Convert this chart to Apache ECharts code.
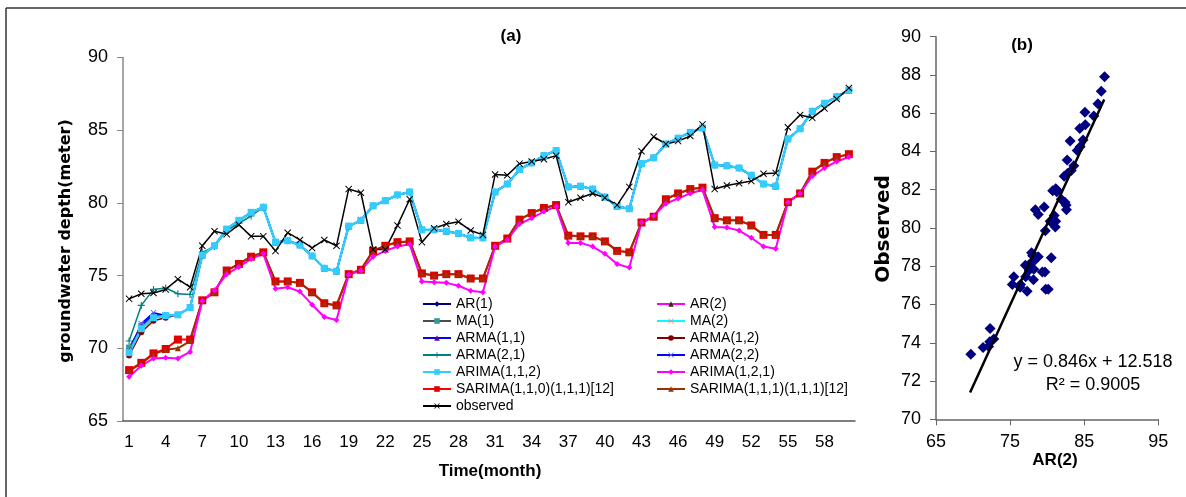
<!DOCTYPE html>
<html>
<head>
<meta charset="utf-8">
<script src="https://cdn.jsdelivr.net/npm/echarts@6/dist/echarts.min.js"></script>
<style>
  html, body { margin: 0; padding: 0; background: #fff; }
  #chart { width: 1186px; height: 497px; }
</style>
</head>
<body>
<div id="chart"></div>
<script>
// months 1..60
const months = []
for (let i = 1; i <= 60; i++) months.push(String(i))

// observed groundwater depth
const observed = [
  73.4, 73.75, 73.8, 74.05, 74.75, 74.2, 77.05, 78.05, 77.85, 78.5, 77.7, 77.7,
  76.7, 77.95, 77.45, 76.9, 77.45, 77.05, 80.95, 80.7, 76.8, 76.8, 78.45, 80.25,
  77.3, 78.25, 78.55, 78.7, 78.1, 77.8, 81.95, 81.9, 82.7, 82.85, 83.0, 83.25,
  80.05, 80.35, 80.65, 80.35, 79.85, 81.1, 83.55, 84.55, 84.05, 84.25, 84.6, 85.4,
  80.95, 81.2, 81.35, 81.5, 82.0, 82.05, 85.2, 86.05, 85.85, 86.5, 87.15, 87.9
]

// upper group of models (AR, MA, ARMA, ARIMA(1,1,2)) - they overlap almost everywhere
const upperModel = [
  69.7, 71.35, 72.1, 72.25, 72.3, 72.8, 76.4, 77.05, 78.2, 78.8, 79.35, 79.7,
  77.3, 77.4, 77.1, 76.35, 75.5, 75.3, 78.4, 78.8, 79.8, 80.15, 80.55, 80.75,
  78.15, 78.15, 78.05, 77.9, 77.6, 77.6, 80.75, 81.3, 82.3, 82.75, 83.25, 83.6,
  81.1, 81.15, 80.95, 80.4, 79.75, 79.6, 82.7, 83.1, 84.05, 84.45, 84.85, 85.15,
  82.6, 82.55, 82.4, 81.9, 81.3, 81.15, 84.4, 85.1, 86.3, 86.85, 87.3, 87.75
]
// first months where single models leave the bundle
const ar1Start = [69.6]
const ma1Start = [70.05, 71.55]
const arma11Start = [69.8, 71.6, 72.3]
const arma12Start = [69.5, 71.1, 71.9, 72.1]
const arma21Start = [70.5, 72.95, 74.05, 74.15, 73.75, 73.7, 76.6, 77.0, 78.1, 78.6, 79.1]
const arma22Start = [69.8, 71.7, 72.45]

// lower group
const sarima110 = [
  68.5, 69.0, 69.65, 69.95, 70.6, 70.6, 73.3, 73.85, 75.35, 75.8, 76.3, 76.6,
  74.6, 74.6, 74.5, 73.85, 73.1, 72.95, 75.1, 75.4, 76.7, 77.05, 77.3, 77.35,
  75.15, 75.0, 75.1, 75.1, 74.8, 74.8, 77.05, 77.55, 78.85, 79.3, 79.65, 79.85,
  77.75, 77.7, 77.7, 77.35, 76.7, 76.6, 78.65, 79.05, 80.25, 80.65, 80.95, 81.05,
  78.95, 78.8, 78.8, 78.45, 77.8, 77.8, 80.05, 80.65, 82.15, 82.75, 83.15, 83.35
]
const sarima111Start = [68.45, 68.95, 69.6, 69.9, 70.0, 70.5]
const arima121 = [
  68.05, 68.8, 69.3, 69.35, 69.3, 69.75, 73.25, 74.0, 75.1, 75.6, 76.15, 76.5,
  74.1, 74.2, 73.9, 73.0, 72.15, 71.95, 75.05, 75.35, 76.3, 76.7, 77.0, 77.15,
  74.6, 74.55, 74.5, 74.3, 73.95, 73.85, 77.0, 77.45, 78.55, 78.95, 79.4, 79.75,
  77.25, 77.25, 77.0, 76.5, 75.8, 75.55, 78.65, 79.1, 79.95, 80.3, 80.65, 80.9,
  78.35, 78.3, 78.1, 77.6, 77.0, 76.85, 80.05, 80.65, 81.85, 82.4, 82.85, 83.15
]

// trend line of panel (b)
const trendSlope = 0.846
const trendIntercept = 12.518
const trendX = [69.6, 87.7]

const withStart = (start, base) => start.concat(base.slice(start.length))

const X_SYM = 'path://M0,1L1,0L5,4L9,0L10,1L6,5L10,9L9,10L5,6L1,10L0,9L4,5Z'
const PLUS_SYM = 'path://M4.2,0H5.8V4.2H10V5.8H5.8V10H4.2V5.8H0V4.2H4.2Z'
const DASH_SYM = 'path://M0,4H10V6H0Z'

function line(name, data, lineColor, symbol, symColor, symSize, width) {
  return {
    name, type: 'line', data,
    xAxisIndex: 0, yAxisIndex: 0,
    symbol, symbolSize: symSize, showAllSymbol: true,
    lineStyle: { color: lineColor, width: width || 1.5 },
    itemStyle: { color: symColor },
    emphasis: { disabled: true }
  }
}

const series = [
  line('AR(1)', withStart(ar1Start, upperModel), '#000080', 'diamond', '#000080', 6),
  line('AR(2)', upperModel, '#FF00FF', 'triangle', '#333300', 6),
  line('MA(1)', withStart(ma1Start, upperModel), '#4D4D4D', 'rect', '#339999', 6),
  line('MA(2)', upperModel, '#00FFFF', X_SYM, '#FF8080', 6),
  line('ARMA(1,1)', withStart(arma11Start, upperModel), '#0000FF', 'triangle', '#660099', 6),
  line('ARMA(1,2)', withStart(arma12Start, upperModel), '#800000', 'circle', '#800000', 6),
  line('ARMA(2,1)', withStart(arma21Start, upperModel), '#008080', PLUS_SYM, '#008080', 7),
  line('ARMA(2,2)', withStart(arma22Start, upperModel), '#0000FF', X_SYM, '#6666FF', 6),
  line('ARIMA(1,1,2)', upperModel, '#33CCFF', DASH_SYM, '#33CCFF', 7, 2.5),
  line('SARIMA(1,1,0)(1,1,1)[12]', sarima110, '#FF0000', 'rect', '#E00000', 8, 2),
  line('SARIMA(1,1,1)(1,1,1)[12]', withStart(sarima111Start, sarima110), '#993300', 'triangle', '#993300', 6, 2),
  line('ARIMA(1,2,1)', arima121, '#FF00FF', 'diamond', '#FF00FF', 6, 2),
  line('observed', observed, '#000000', X_SYM, '#000000', 7, 1.5),
  {
    name: 'scatter', type: 'scatter',
    xAxisIndex: 1, yAxisIndex: 1,
    data: upperModel.map((v, i) => [v, observed[i]]),
    symbol: 'diamond', symbolSize: 11,
    itemStyle: { color: '#000080', opacity: 1 },
    emphasis: { disabled: true }
  },
  {
    name: 'trend', type: 'line',
    xAxisIndex: 1, yAxisIndex: 1,
    data: trendX.map(x => [x, trendSlope * x + trendIntercept]),
    symbol: 'none',
    lineStyle: { color: '#000', width: 2.5 },
    emphasis: { disabled: true }
  }
]

const labelFont = { fontFamily: 'Liberation Sans', color: '#000' }
const legendCommon = {
  orient: 'vertical', top: 297, padding: 0, itemWidth: 28, itemHeight: 7, itemGap: 3,
  selectedMode: false,
  textStyle: { fontFamily: 'Liberation Sans', fontSize: 14, color: '#000' }
}

const chart = echarts.init(document.getElementById('chart'))
chart.setOption({
  animation: false,
  backgroundColor: '#fff',
  legend: [
    Object.assign({ left: 422, data: ['AR(1)', 'MA(1)', 'ARMA(1,1)', 'ARMA(2,1)', 'ARIMA(1,1,2)', 'SARIMA(1,1,0)(1,1,1)[12]', 'observed'] }, legendCommon),
    Object.assign({ left: 656, data: ['AR(2)', 'MA(2)', 'ARMA(1,2)', 'ARMA(2,2)', 'ARIMA(1,2,1)', 'SARIMA(1,1,1)(1,1,1)[12]'] }, legendCommon)
  ],
  grid: [
    { left: 123, top: 57.5, width: 732, height: 363.5 },
    { left: 936, top: 36.7, width: 222.3, height: 382.6 }
  ],
  xAxis: [
    {
      type: 'category', gridIndex: 0, data: months, boundaryGap: true,
      axisLine: { lineStyle: { color: '#555', width: 1.5 } },
      axisTick: { interval: 0, length: 6, lineStyle: { color: '#555' } },
      axisLabel: Object.assign({ interval: 2, fontSize: 17, margin: 13 }, labelFont),
      splitLine: { show: false }
    },
    {
      type: 'value', gridIndex: 1, min: 65, max: 95, interval: 10,
      axisLine: { show: true, lineStyle: { color: '#666', width: 1.5 } },
      axisTick: { show: true, length: 6, lineStyle: { color: '#666' } },
      axisLabel: Object.assign({ fontSize: 18, margin: 14 }, labelFont),
      splitLine: { show: false }
    }
  ],
  yAxis: [
    {
      type: 'value', gridIndex: 0, min: 65, max: 90, interval: 5,
      axisLine: { show: true, lineStyle: { color: '#888', width: 1.5 } },
      axisTick: { show: true, length: 6, lineStyle: { color: '#888' } },
      axisLabel: Object.assign({ fontSize: 18, margin: 15 }, labelFont),
      splitLine: { show: false }
    },
    {
      type: 'value', gridIndex: 1, min: 70, max: 90, interval: 2,
      axisLine: { show: true, lineStyle: { color: '#666', width: 1.5 } },
      axisTick: { show: true, length: 6, lineStyle: { color: '#666' } },
      axisLabel: Object.assign({ fontSize: 18, margin: 15 }, labelFont),
      splitLine: { show: false }
    }
  ],
  graphic: [
    { type: 'line', shape: { x1: 6, y1: 8, x2: 1186, y2: 8 }, style: { stroke: '#333', lineWidth: 1.5 } },
    { type: 'line', shape: { x1: 6, y1: 8, x2: 6, y2: 497 }, style: { stroke: '#333', lineWidth: 1.5 } },
    { type: 'text', x: 511, y: 36, style: { text: '(a)', font: 'bold 17px "Liberation Sans"', fill: '#000', textAlign: 'center', textVerticalAlign: 'middle' } },
    { type: 'text', x: 1022, y: 45, style: { text: '(b)', font: 'bold 17px "Liberation Sans"', fill: '#000', textAlign: 'center', textVerticalAlign: 'middle' } },
    { type: 'text', x: 66, y: 241, rotation: Math.PI / 2, style: { text: 'groundwater depth(meter)', font: 'bold 16px "DejaVu Sans"', fill: '#000', textAlign: 'center', textVerticalAlign: 'middle' } },
    { type: 'text', x: 490, y: 471, style: { text: 'Time(month)', font: 'bold 17px "Liberation Sans"', fill: '#000', textAlign: 'center', textVerticalAlign: 'middle' } },
    { type: 'text', x: 884, y: 229, rotation: Math.PI / 2, style: { text: 'Observed', font: 'bold 20px "DejaVu Sans"', fill: '#000', textAlign: 'center', textVerticalAlign: 'middle' } },
    { type: 'text', x: 1055, y: 460, style: { text: 'AR(2)', font: 'bold 17px "Liberation Sans"', fill: '#000', textAlign: 'center', textVerticalAlign: 'middle' } },
    { type: 'text', x: 1093, y: 362, style: { text: 'y = 0.846x + 12.518', font: '18px "Liberation Sans"', fill: '#000', textAlign: 'center', textVerticalAlign: 'middle' } },
    { type: 'text', x: 1093, y: 385, style: { text: 'R² = 0.9005', font: '18px "Liberation Sans"', fill: '#000', textAlign: 'center', textVerticalAlign: 'middle' } }
  ],
  series
})
</script>
</body>
</html>
